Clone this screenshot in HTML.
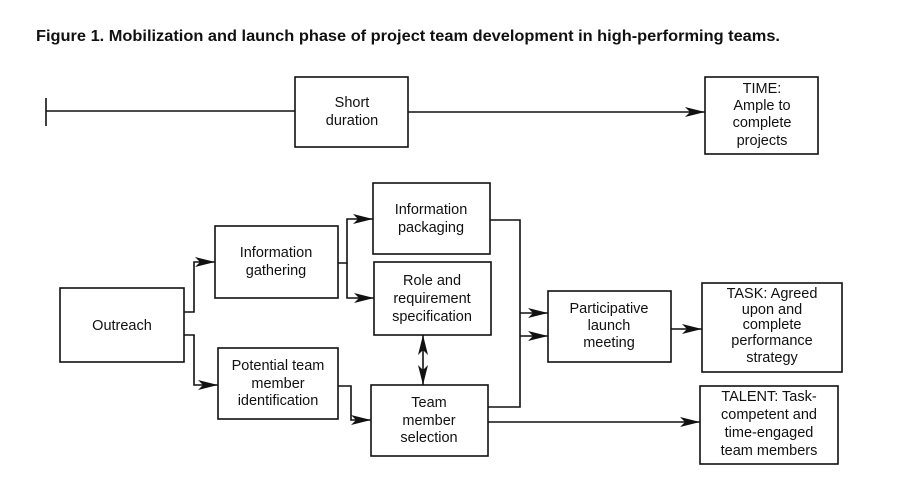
<!DOCTYPE html>
<html><head><meta charset="utf-8"><style>
html,body{margin:0;padding:0;background:#fff;}
svg{display:block;}
text{font-family:"Liberation Sans",Arial,sans-serif;font-size:14.5px;fill:#111;text-anchor:middle;}
</style></head><body>
<svg width="903" height="495" viewBox="0 0 903 495" xmlns="http://www.w3.org/2000/svg">
<defs><marker id="a" markerWidth="20" markerHeight="12" refX="20" refY="6" orient="auto-start-reverse" markerUnits="userSpaceOnUse"><path d="M0,1 L20,6 L0,11 L5,6 Z" fill="#111"/></marker></defs>
<text x="36" y="41" style="font-weight:bold;font-size:15.5px;text-anchor:start" textLength="744" lengthAdjust="spacingAndGlyphs">Figure 1. Mobilization and launch phase of project team development in high-performing teams.</text>
<g fill="none" stroke="#111" stroke-width="1.6">
<line x1="46" y1="98" x2="46" y2="126"/>
<line x1="46" y1="111" x2="295" y2="111"/>
<rect x="295" y="77" width="113" height="70"/>
<line x1="408" y1="112" x2="705" y2="112" marker-end="url(#a)"/>
<rect x="705" y="77" width="113" height="77"/>
<rect x="60" y="288" width="124" height="74"/>
<rect x="215" y="226" width="123" height="72"/>
<rect x="218" y="348" width="120" height="71"/>
<rect x="373" y="183" width="117" height="71"/>
<rect x="374" y="262" width="117" height="73"/>
<rect x="371" y="385" width="117" height="71"/>
<rect x="548" y="291" width="123" height="71"/>
<rect x="702" y="283" width="140" height="89"/>
<rect x="700" y="386" width="138" height="78"/>
<polyline points="184,312 194,312 194,262 215,262" marker-end="url(#a)"/>
<polyline points="184,335 194,335 194,385 218,385" marker-end="url(#a)"/>
<polyline points="338,263 347,263 347,219 373,219" marker-end="url(#a)"/>
<polyline points="347,263 347,298 374,298" marker-end="url(#a)"/>
<polyline points="338,386 351,386 351,420 371,420" marker-end="url(#a)"/>
<line x1="423" y1="335" x2="423" y2="385" marker-start="url(#a)" marker-end="url(#a)"/>
<polyline points="490,220 520,220 520,407 488,407"/>
<line x1="520" y1="313" x2="548" y2="313" marker-end="url(#a)"/>
<line x1="520" y1="336" x2="548" y2="336" marker-end="url(#a)"/>
<line x1="671" y1="329" x2="702" y2="329" marker-end="url(#a)"/>
<line x1="488" y1="422" x2="700" y2="422" marker-end="url(#a)"/>
</g>
<text x="352" y="107">Short</text><text x="352" y="125">duration</text>
<text x="762" y="93">TIME:</text><text x="762" y="110">Ample to</text><text x="762" y="127">complete</text><text x="762" y="145">projects</text>
<text x="122" y="330">Outreach</text>
<text x="276" y="257">Information</text><text x="276" y="275">gathering</text>
<text x="278" y="370">Potential team</text><text x="278" y="388">member</text><text x="278" y="405">identification</text>
<text x="431" y="214">Information</text><text x="431" y="232">packaging</text>
<text x="432" y="285">Role and</text><text x="432" y="303">requirement</text><text x="432" y="321">specification</text>
<text x="429" y="407">Team</text><text x="429" y="425">member</text><text x="429" y="442">selection</text>
<text x="609" y="313">Participative</text><text x="609" y="330">launch</text><text x="609" y="347">meeting</text>
<text x="772" y="298">TASK: Agreed</text><text x="772" y="314">upon and</text><text x="772" y="329">complete</text><text x="772" y="345">performance</text><text x="772" y="362">strategy</text>
<text x="769" y="401">TALENT: Task-</text><text x="769" y="419">competent and</text><text x="769" y="437">time-engaged</text><text x="769" y="455">team members</text>
</svg>
</body></html>
